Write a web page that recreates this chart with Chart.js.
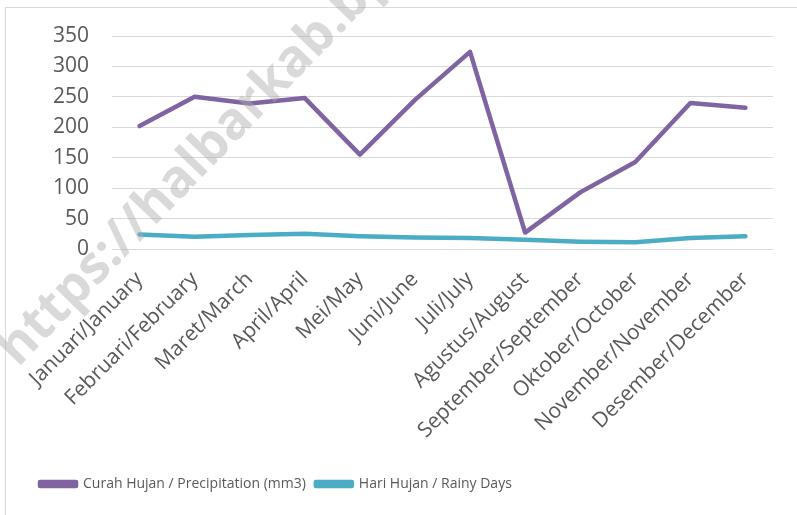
<!DOCTYPE html>
<html>
<head>
<meta charset="utf-8">
<script src="https://cdn.jsdelivr.net/npm/chart.js@4/dist/chart.umd.min.js"></script>
<style>
  html, body { margin: 0; padding: 0; background: #fff; }
  #wrap { position: relative; width: 797px; height: 515px; overflow: hidden; }
  #frame { position: absolute; left: 5px; top: 7px; width: 900px; height: 600px; border: 1px solid #d9d9d9; }
  canvas { position: absolute; left: 0; top: 0; }
</style>
</head>
<body>
<div id="wrap">
  <div id="frame"></div>
  <canvas id="chart" width="797" height="515"></canvas>
</div>
<script>
// Curah hujan dan hari hujan per bulan

const months = [
  'Januari/January', 'Februari/February', 'Maret/March', 'April/April',
  'Mei/May', 'Juni/June', 'Juli/July', 'Agustus/August',
  'September/September', 'Oktober/October', 'November/November', 'Desember/December'
];
const precipitation = [202, 250, 239, 248, 155, 245, 324, 27, 93, 143, 240, 232];
const rainyDays = [24, 20, 23, 25, 21, 19, 18, 15, 12, 11, 18, 21];
const yTicks = [0, 50, 100, 150, 200, 250, 300, 350];

const purple = '#8064A2';
const teal = '#4BACC6';
const textGrey = '#595959';

// watermark text diagonally over the chart
const watermark = {
  id: 'watermark',
  afterDraw(chart) {
    const ctx = chart.ctx;
    ctx.save();
    ctx.translate(18, 368);
    ctx.rotate(-46 * Math.PI / 180);
    ctx.font = 'bold 52px "Open Sans"';
    ctx.fillStyle = 'rgba(170,170,170,0.45)';
    ctx.textBaseline = 'alphabetic';
    ctx.fillText('https://halbarkab.bps.go.id', 0, 0);
    ctx.restore();
  }
};

new Chart(document.getElementById('chart'), {
  type: 'line',
  data: {
    labels: months,
    datasets: [
      {
        label: 'Curah Hujan / Precipitation (mm3)',
        data: precipitation,
        borderColor: purple,
        backgroundColor: purple,
        borderWidth: 4.5,
        pointRadius: 0,
        borderCapStyle: 'round',
        borderJoinStyle: 'round',
        tension: 0
      },
      {
        label: 'Hari Hujan / Rainy Days',
        data: rainyDays,
        borderColor: teal,
        backgroundColor: teal,
        borderWidth: 4.5,
        pointRadius: 0,
        borderCapStyle: 'round',
        borderJoinStyle: 'round',
        tension: 0
      }
    ]
  },
  options: {
    responsive: false,
    animation: false,
    layout: { padding: { top: 36, left: 30, right: 24, bottom: 14 } },
    plugins: {
      tooltip: { enabled: false },
      legend: {
        position: 'bottom',
        align: 'start',
        labels: {
          boxWidth: 36,
          boxHeight: 4,
          padding: 10,
          color: textGrey,
          font: { family: '"Open Sans"', size: 14 }
        }
      }
    },
    scales: {
      x: {
        offset: true,
        grid: { display: false },
        border: { display: false },
        ticks: {
          autoSkip: false,
          minRotation: 45,
          maxRotation: 45,
          padding: 10,
          color: textGrey,
          font: { family: '"Open Sans"', size: 21 }
        },
        afterFit(scale) {
          scale.height = 218;
          scale.paddingLeft = 0;
          scale.paddingRight = 0;
        }
      },
      y: {
        min: 0,
        max: 350,
        afterBuildTicks(scale) {
          scale.ticks = yTicks.map(v => ({ value: v }));
        },
        grid: { color: '#d9d9d9', lineWidth: 1, drawTicks: false },
        border: { display: false },
        ticks: {
          padding: 23,
          color: textGrey,
          font: { family: '"Open Sans"', size: 21 }
        },
        afterFit(scale) {
          scale.width = 82;
          scale.paddingTop = 0;
          scale.paddingBottom = 0;
        }
      }
    }
  },
  plugins: [watermark]
});
</script>
</body>
</html>
